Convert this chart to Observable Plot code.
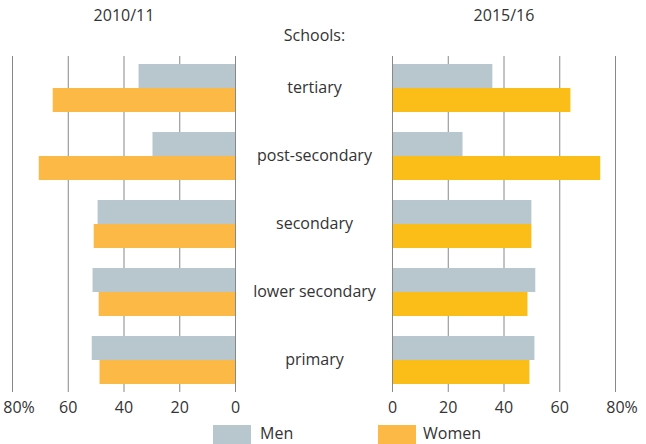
<!DOCTYPE html>
<html><head><meta charset="utf-8">
<script src="https://cdn.jsdelivr.net/npm/d3@7"></script>
<script src="https://cdn.jsdelivr.net/npm/@observablehq/plot@0.6"></script>
<style>
body{margin:0;background:#fff;}
#chart{position:relative;width:646px;height:444px;overflow:hidden;font-family:"Open Sans",sans-serif;color:#333;}
#chart svg{position:absolute;top:0;overflow:visible;}
.t{position:absolute;font-size:16px;line-height:16px;white-space:nowrap;transform:translateX(-50%);}
.sw{position:absolute;width:38px;height:22px;}
.lt{position:absolute;font-size:16px;line-height:16px;white-space:nowrap;}
</style></head><body><div id="chart"></div>
<script>
const categories = ["tertiary", "post-secondary", "secondary", "lower secondary", "primary"];
const men2010 = [34.6, 29.6, 49.3, 51.1, 51.4];
const women2010 = [65.4, 70.4, 50.7, 48.9, 48.6];
const men2015 = [36.0, 25.3, 50.0, 51.4, 51.1];
const women2015 = [64.0, 74.7, 50.0, 48.6, 49.3];
const periods = ["2010/11", "2015/16"];
const seriesNames = ["Men", "Women"];
const tickValues = [0, 20, 40, 60, 80];
const groupTitle = "Schools:";

const MEN = "#b8c6cd", WOMEN_A = "#fdb946", WOMEN_B = "#fbbe18", GRID = "#888888", INK = "#333333";
const chart = document.getElementById("chart");

function panel(men, women, womenColor, reverse, left, width, withLabels) {
  const rows = categories.map((c, i) => ({category: c, men: men[i], women: women[i]}));
  const marks = [
    Plot.ruleX(tickValues, {stroke: GRID, strokeWidth: 1}),
    Plot.barX(rows, {x: "men", y: "category", fill: MEN, insetBottom: 24}),
    Plot.barX(rows, {x: "women", y: "category", fill: womenColor, insetTop: 24}),
    Plot.ruleX([0], {stroke: GRID, strokeWidth: 1}),
    Plot.text([tickValues[tickValues.length - 1]], {x: d => d, text: () => "%", frameAnchor: "bottom", lineAnchor: "top", dy: 9, dx: 9, textAnchor: "start", fill: INK, fontSize: 16})
  ];
  if (withLabels) {
    marks.push(Plot.text(rows, {y: "category", text: "category", frameAnchor: "right", textAnchor: "middle", dx: 79, dy: -1, fill: INK, fontSize: 16}));
  }
  const svg = Plot.plot({
    width, height: 420,
    marginLeft: 12, marginRight: width - 235, marginTop: 56, marginBottom: 28,
    style: {fontSize: "16px", fontFamily: "Open Sans, sans-serif", color: INK, background: "transparent", overflow: "visible"},
    x: {domain: [0, 80], reverse, ticks: tickValues, tickSize: 0, tickPadding: 9, tickFormat: d => String(d), label: null},
    y: {domain: categories, paddingInner: 20 / 68, paddingOuter: 8 / 68, round: false, axis: null},
    marks
  });
  svg.style.left = left + "px";
  chart.appendChild(svg);
}

panel(men2010, women2010, WOMEN_A, true, 0, 250, true);
panel(men2015, women2015, WOMEN_B, false, 380, 266, false);

function addText(cls, txt, x, y) {
  const d = document.createElement("div");
  d.className = cls; d.textContent = txt;
  d.style.left = x + "px"; d.style.top = y + "px";
  chart.appendChild(d);
  return d;
}
addText("t", periods[0], 124, 7);
addText("t", periods[1], 504, 7);
addText("t", groupTitle, 314.5, 27);

const sw1 = document.createElement("div"); sw1.className = "sw"; sw1.style.left = "213px"; sw1.style.top = "425px"; sw1.style.background = MEN; chart.appendChild(sw1);
addText("lt", seriesNames[0], 260, 425);
const sw2 = document.createElement("div"); sw2.className = "sw"; sw2.style.left = "378px"; sw2.style.top = "425px"; sw2.style.background = WOMEN_A; chart.appendChild(sw2);
addText("lt", seriesNames[1], 423, 425);
</script></body></html>
